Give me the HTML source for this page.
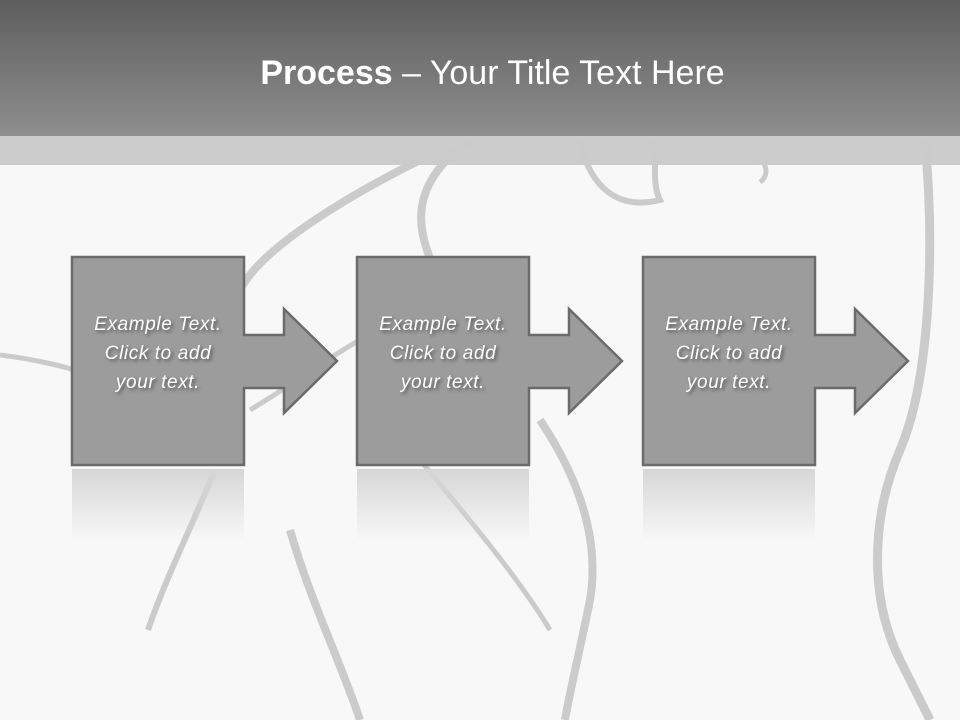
<!DOCTYPE html>
<html><head><style>
body{margin:0;width:960px;height:720px;overflow:hidden;background:#f8f8f8;font-family:"Liberation Sans",sans-serif}
.hdr{position:absolute;left:0;top:0;width:960px;height:136px;background:linear-gradient(#5e5e5e,#8e8e8e)}
.band{position:absolute;left:0;top:136px;width:960px;height:29px;background:#cccccc}
.title{position:absolute;top:54px;left:0;width:985px;text-align:center;color:#fff;font-size:34px}
.txt{position:absolute;width:172px;text-align:center;color:#fff;font-style:italic;font-size:19px;letter-spacing:0.6px;line-height:29px;top:310px;text-shadow:2px 2px 3px #555}
.ref{position:absolute;top:469px;width:172px;height:72px;background:linear-gradient(#d6d6d6,rgba(248,248,248,0))}
</style></head><body>
<div class="hdr"></div><div class="band"></div>
<svg width="960" height="720" style="position:absolute;left:0;top:0" fill="none" stroke="#cbcbcb">
<path d="M420 160 C340 200 260 250 240 290" stroke-width="8"/>
<path d="M0 355 C40 360 70 368 80 372" stroke-width="5"/>
<path d="M470 140 C400 190 420 240 440 280" stroke-width="8"/>
<path d="M250 410 C300 380 340 350 360 340" stroke-width="5"/>
<path d="M290 530 C310 600 340 660 360 720" stroke-width="8"/>
<path d="M215 470 C190 530 165 580 148 630" stroke-width="6"/>
<path d="M420 460 C470 520 520 580 550 630" stroke-width="5"/>
<path d="M540 420 C580 480 600 540 590 600 C580 650 570 690 565 720" stroke-width="8"/>
<path d="M580 140 C590 190 620 210 660 200 C650 180 660 160 650 140" stroke-width="6"/>
<path d="M740 140 C770 160 770 175 760 182" stroke-width="5"/>
<path d="M925 140 C935 250 930 380 900 450 C870 520 870 600 900 660 C915 690 925 710 930 720" stroke-width="9"/>
</svg>
<div class="ref" style="left:72px"></div><div class="ref" style="left:357px"></div><div class="ref" style="left:643px"></div>
<svg width="960" height="720" style="position:absolute;left:0;top:0">
<g fill="#9c9c9c" stroke="#6b6b6b" stroke-width="2.5" stroke-linejoin="miter">
<path d="M72 257 H244 V335 H284 V309 L337 361 L284 413 V388 H244 V465 H72 Z"/>
<path d="M357 257 H529 V335 H569 V309 L622 361 L569 413 V388 H529 V465 H357 Z"/>
<path d="M643 257 H815 V335 H855 V309 L908 361 L855 413 V388 H815 V465 H643 Z"/>
</g></svg>
<div class="title"><b>Process</b> – Your Title Text Here</div>
<div class="txt" style="left:72px">Example Text.<br>Click to add<br>your text.</div>
<div class="txt" style="left:357px">Example Text.<br>Click to add<br>your text.</div>
<div class="txt" style="left:643px">Example Text.<br>Click to add<br>your text.</div>
</body></html>
